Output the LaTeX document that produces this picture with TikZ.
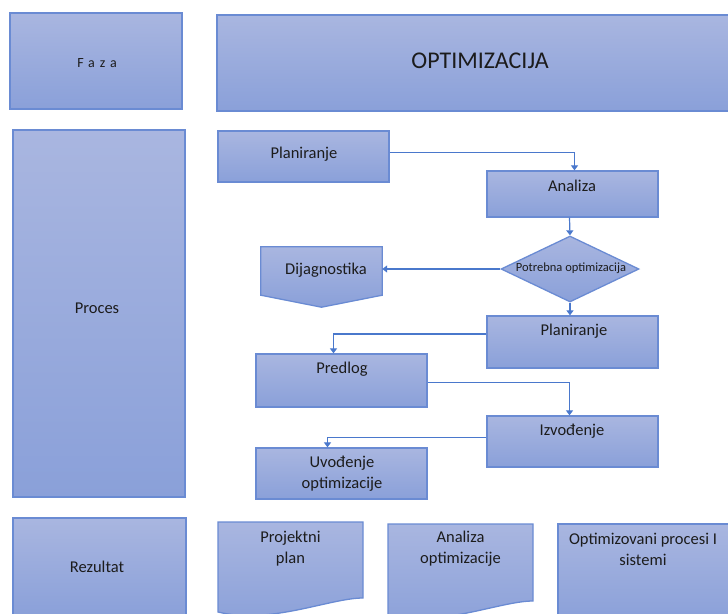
\documentclass[tikz,border=0pt]{standalone}
\usepackage{fontspec}
\setmainfont{Carlito}
\newfontfamily\spacedfont[LetterSpace=35]{Carlito}
\usetikzlibrary{arrows.meta,shapes.geometric}
\definecolor{boxtop}{HTML}{A9B6E0}
\definecolor{boxbot}{HTML}{8AA0D9}
\definecolor{boxline}{HTML}{6A8BD3}
\definecolor{flow}{HTML}{4A78CC}
\definecolor{ink}{HTML}{1C1C1C}

\begin{document}
\begin{tikzpicture}[x=1pt,y=-1pt,
  box/.style={draw=boxline, line width=1.3pt, top color=boxtop, bottom color=boxbot, inner sep=0pt},
  txt/.style={text=ink, font=\fontsize{16.5}{21}\selectfont, align=center, inner sep=0pt},
  flowline/.style={draw=flow, line width=1.2pt, -{Triangle[length=5pt,width=7pt]}},
]
\useasboundingbox (0,0) rectangle (728,613);

% ---- row headers and phase title
\node[box, minimum width=172pt, minimum height=96pt] (faza) at (96,61) {};
\node[txt] (fazat) at (97,63) {\spacedfont\fontsize{14}{16}\selectfont Faza};
\node[box, minimum width=526pt, minimum height=96pt] (optim) at (480,63) {};
\node[txt, font=\fontsize{24}{28}\selectfont] (optimt) at (480,61) {OPTIMIZACIJA};

\node[box, minimum width=172pt, minimum height=367pt] (proces) at (99,313.5) {};
\node[txt] (procest) at (97,308) {Proces};

\node[box, minimum width=173pt, minimum height=98pt] (rez) at (99.5,567) {};
\node[txt] (rezt) at (97,567) {Rezultat};

% ---- process flow
\node[box, minimum width=171pt, minimum height=51pt] (plan1) at (303.5,156.5) {};
\node[txt] (plan1t) at (304,154) {Planiranje};

\node[box, minimum width=171pt, minimum height=46pt] (analiza) at (572.5,194) {};
\node[txt] (analizat) at (572,186) {Analiza};

\node[box, diamond, minimum width=138pt, minimum height=66pt] (dia) at (570,269) {};
\node[txt, font=\fontsize{12.5}{15}\selectfont] (diat) at (571,268) {Potrebna optimizacija};

\node[minimum width=121pt, minimum height=60pt, inner sep=0pt] (dij) at (321.5,277) {};
\shade[box] (dij.north west) -- (dij.north east) -- ([yshift=12pt]dij.south east)
  -- (dij.south) -- ([yshift=12pt]dij.south west) -- cycle;
\node[txt] (dijt) at (326,270) {Dijagnostika};

\node[box, minimum width=171pt, minimum height=52pt] (plan2) at (572.5,342) {};
\node[txt] (plan2t) at (574,331) {Planiranje};

\node[box, minimum width=171pt, minimum height=53pt] (predlog) at (341.5,380.5) {};
\node[txt] (predlogt) at (342,369) {Predlog};

\node[box, minimum width=171pt, minimum height=51pt] (izvod) at (572.5,441.5) {};
\node[txt] (izvodt) at (572,431) {Izvođenje};

\node[box, minimum width=171pt, minimum height=51pt] (uvod) at (341.5,473.5) {};
\node[txt] (uvodt) at (342,473.5) {Uvođenje\\optimizacije};

% ---- connectors
\draw[flowline] ([yshift=4pt]plan1.east) -| ([xshift=2pt]analiza.north);
\draw[flowline] ([xshift=-3pt]analiza.south) -- (dia.north);
\draw[flowline] (dia.west) -- (dia.west -| dij.east);
\draw[flowline] (dia.south) -- (dia.south |- plan2.north);
\draw[flowline] ([yshift=8pt]plan2.west) -| ([xshift=-8pt]predlog.north);
\draw[flowline] ([yshift=-2pt]predlog.east) -| ([xshift=-3pt]izvod.north);
\draw[flowline] ([yshift=4pt]izvod.west) -| ([xshift=-14pt]uvod.north);

% ---- results: two documents and one box
\shade[box] (218,522) -- (363,522) -- (363,598)
  .. controls (330,598) and (270,625) .. (218,612) -- cycle;
\node[txt] (projt) at (290.5,549) {Projektni\\plan};

\shade[box] (388,524) -- (533,524) -- (533,601)
  .. controls (500,601) and (440,628) .. (388,615) -- cycle;
\node[txt] (analizaopt) at (460.5,549) {Analiza\\optimizacije};

\node[box, minimum width=172pt, minimum height=98pt] (optproc) at (644,573) {};
\node[txt] (optproct) at (643,549) {Optimizovani procesi I\\sistemi};
\end{tikzpicture}
\end{document}
